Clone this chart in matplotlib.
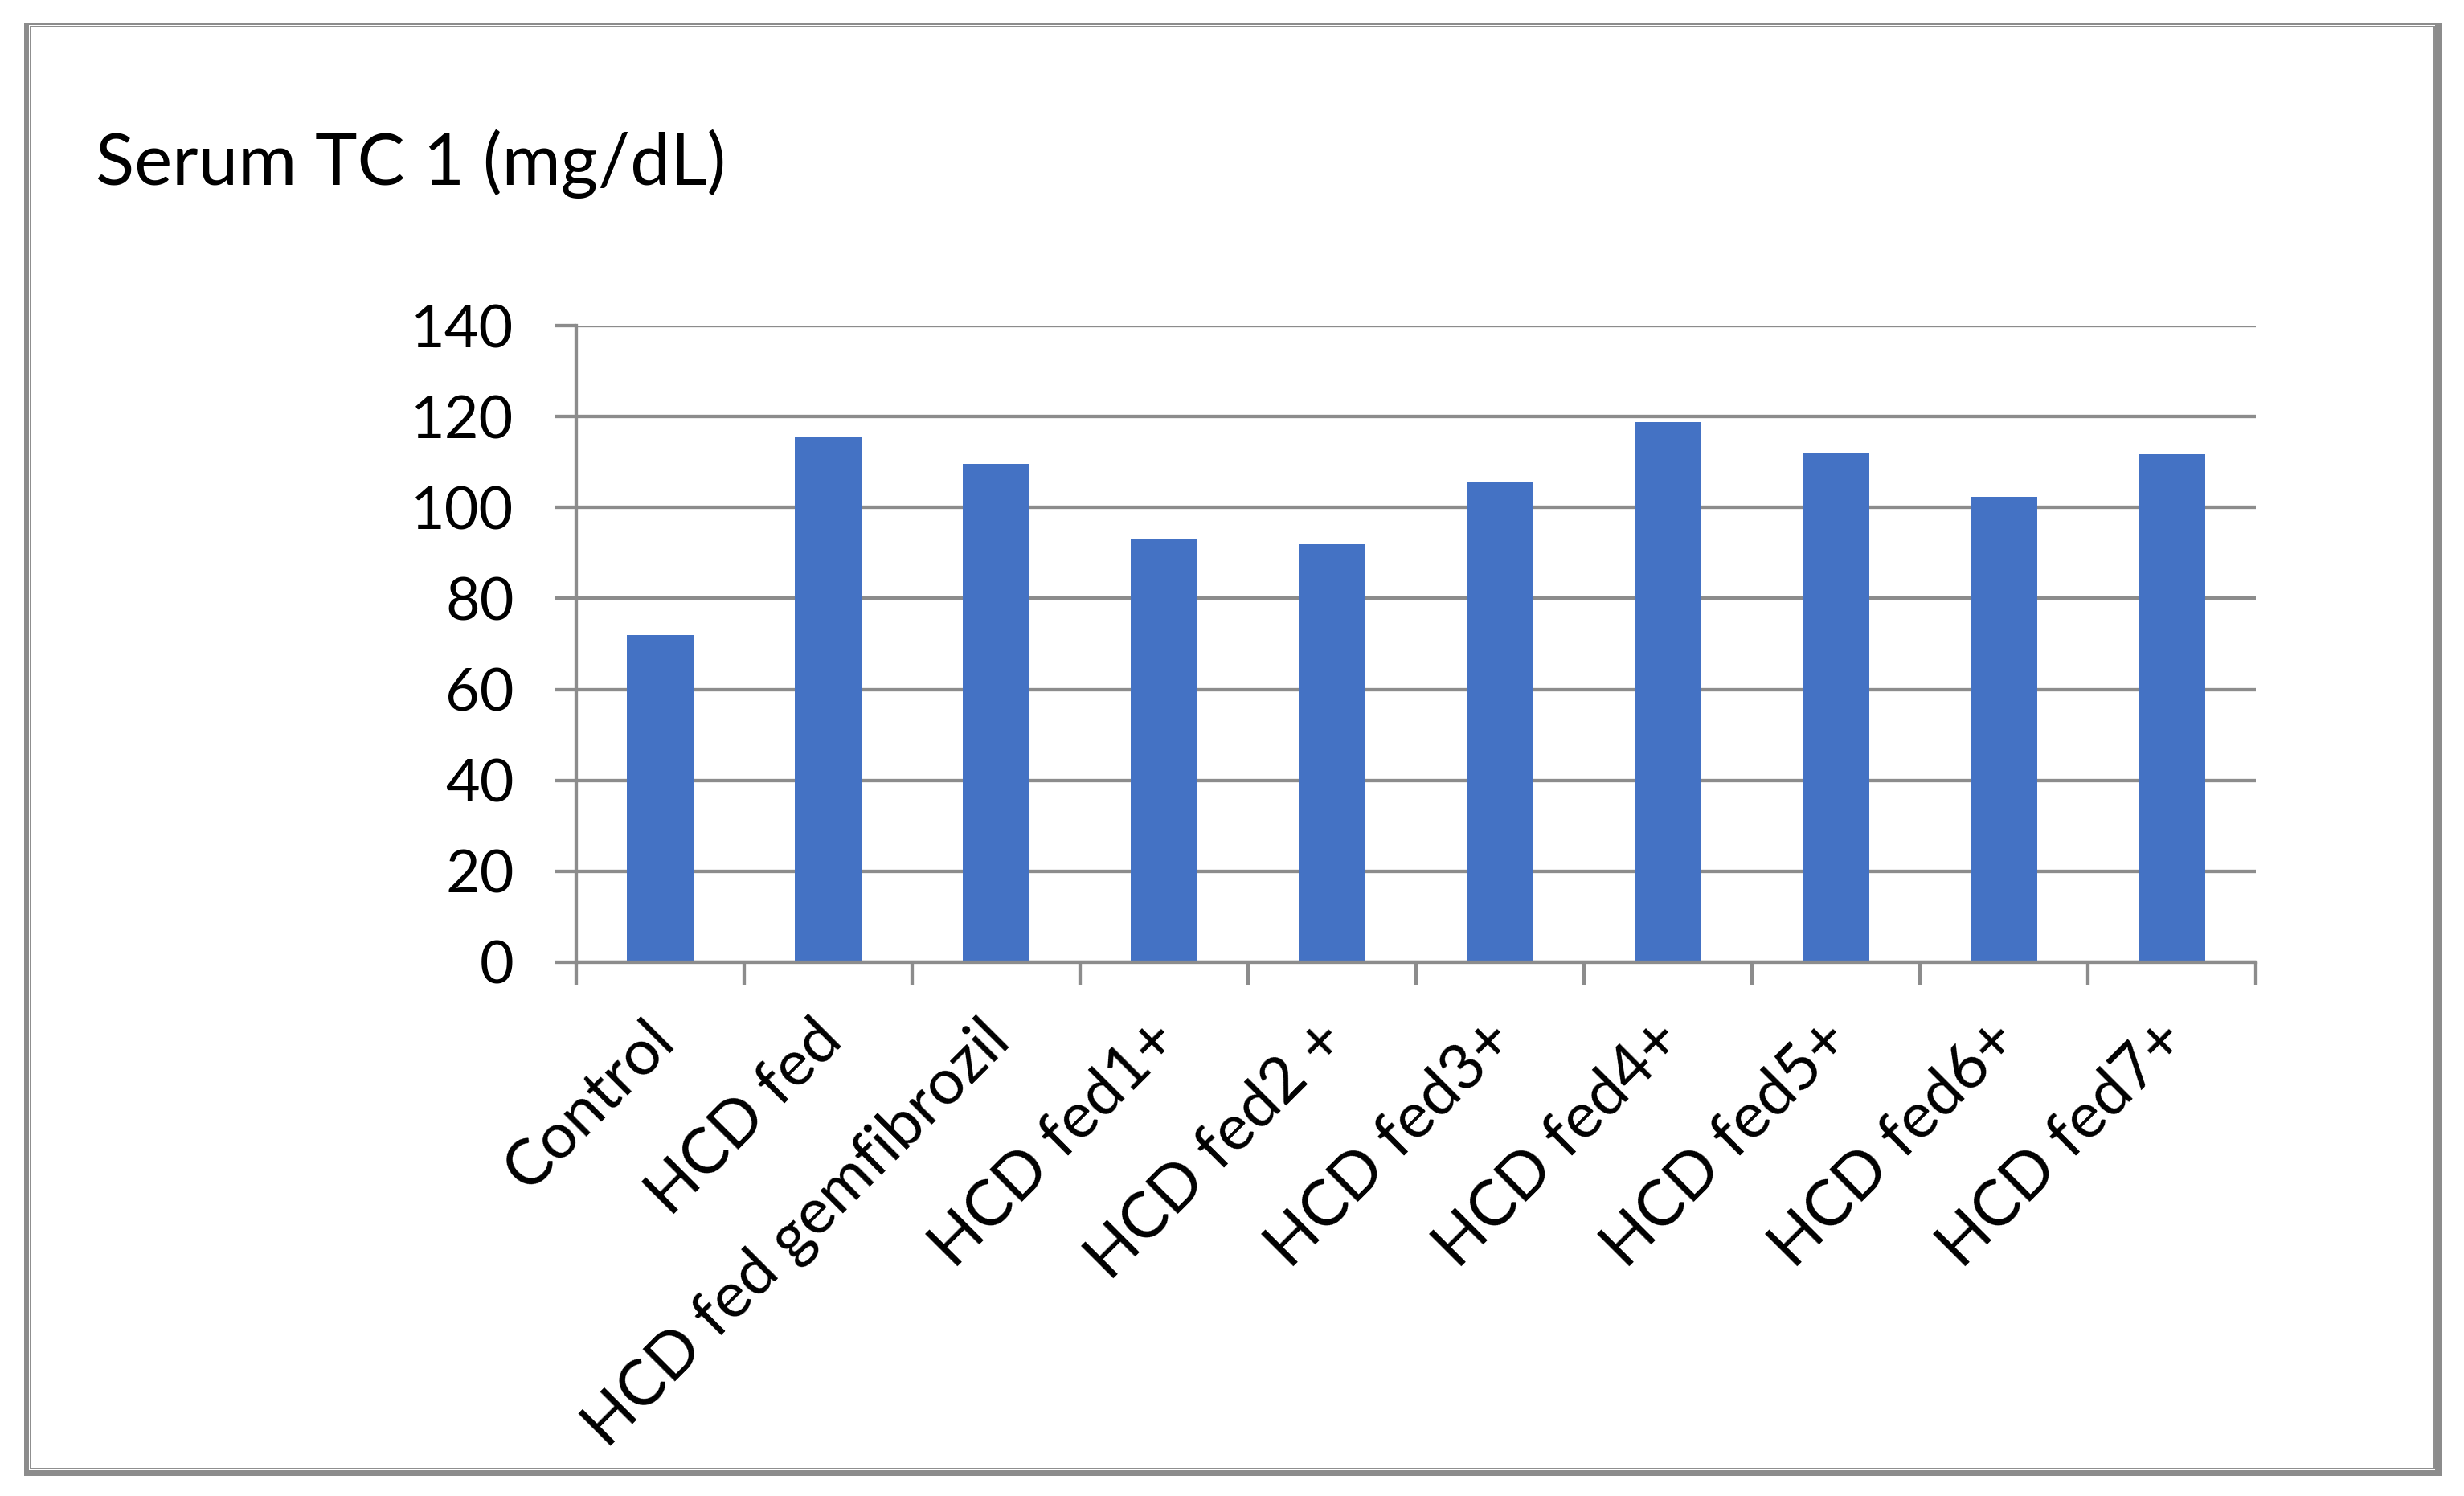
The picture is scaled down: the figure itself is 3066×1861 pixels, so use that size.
import matplotlib
matplotlib.use("Agg")
import matplotlib.pyplot as plt
from matplotlib.patches import Rectangle
from matplotlib.transforms import ScaledTranslation
import numpy as np

# data
categories = ['Control', 'HCD fed', 'HCD fed gemfibrozil', 'HCD fed1+', 'HCD fed2 +',
              'HCD fed3+', 'HCD fed4+', 'HCD fed5+', 'HCD fed6+', 'HCD fed7+']
tc_values = [72.0, 115.4, 109.6, 93.0, 92.0, 105.5, 118.7, 112.1, 102.3, 111.8]
y_ticks = [0, 20, 40, 60, 80, 100, 120, 140]
title = 'Serum TC 1 (mg/dL)'

W, H = 3066, 1861
GRAY = '#8c8c8c'
BLUE = '#4472c4'

plt.rcParams['font.family'] = ['Lato', 'DejaVu Sans']

fig = plt.figure(figsize=(W / 100, H / 100), dpi=100)


def px_box(x0, y0, x1, y1):
    # pixel box (top-left origin) -> figure fraction rect
    return (x0 / W, 1 - y1 / H, (x1 - x0) / W, (y1 - y0) / H)


# chart area border: double line, heavier on left/right/bottom
for x0, y0, x1, y1 in [(30, 29, 36, 1835), (30, 29, 3039, 31),
                       (3030, 29, 3039, 1835), (30, 1829, 3039, 1836)]:
    l, b, w, h = px_box(x0, y0, x1, y1)
    fig.patches.append(Rectangle((l, b), w, h, transform=fig.transFigure,
                                 facecolor=GRAY, edgecolor='none', zorder=0))
l, b, w, h = px_box(38, 33, 3029, 1827)
fig.patches.append(Rectangle((l, b), w, h, transform=fig.transFigure,
                             facecolor='none', edgecolor=GRAY, linewidth=1.4, zorder=0))

ax = fig.add_axes(px_box(717, 405, 2807, 1197))
x = np.arange(len(categories))
ax.bar(x, tc_values, width=0.4, color=BLUE, zorder=3)

ax.set_xlim(-0.5, len(categories) - 0.5)
ax.set_ylim(0, 140)
ax.set_yticks(y_ticks)
ax.yaxis.grid(True, color=GRAY, linewidth=3.1, zorder=1)
ax.set_axisbelow(True)

for side in ['top', 'right']:
    ax.spines[side].set_visible(False)
for side in ['left', 'bottom']:
    ax.spines[side].set_color(GRAY)
    ax.spines[side].set_linewidth(3.1)
    ax.spines[side].set_zorder(4)

ax.tick_params(axis='y', direction='out', length=18.7, width=3.1, color=GRAY,
               labelsize=53, pad=37)

# labels at centers, tick marks at category boundaries
ax.set_xticks(x)
ax.set_xticklabels(categories, rotation=45, ha='right', va='top', rotation_mode='anchor')
ax.set_xticks(np.arange(len(categories) + 1) - 0.5, minor=True)
ax.tick_params(axis='x', which='major', length=0, labelsize=57, pad=43)
ax.tick_params(axis='x', which='minor', direction='out', length=20, width=3.1, color=GRAY)
shift = ScaledTranslation(-0.21, 0, fig.dpi_scale_trans)
for lab in ax.get_xticklabels():
    lab.set_transform(lab.get_transform() + shift)

fig.text(119 / W, 1 - 230 / H, title, fontsize=64, ha='left', va='baseline')

fig.savefig('out.png', dpi=100, facecolor='white')
